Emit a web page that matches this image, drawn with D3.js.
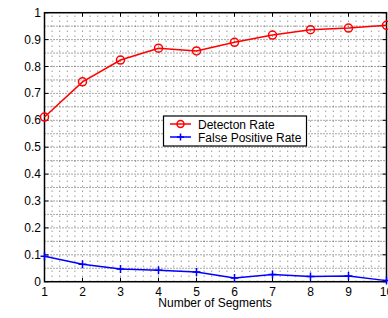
<!DOCTYPE html>
<meta charset="utf-8">
<html>
<head>
<script src="https://d3js.org/d3.v7.min.js"></script>
<style>
body { margin: 0; background: #fff; }
text { font-family: "Liberation Sans", Arial, sans-serif; fill: #000; }
</style>
</head>
<body>
<div id="plot"></div>
<script>
var segments = [1, 2, 3, 4, 5, 6, 7, 8, 9, 10];
var detection = [0.612, 0.743, 0.824, 0.868, 0.858, 0.890, 0.917, 0.937, 0.943, 0.953];
var falsePos = [0.095, 0.065, 0.047, 0.043, 0.036, 0.014, 0.027, 0.019, 0.021, 0.004];
var yTicks = [0, 0.1, 0.2, 0.3, 0.4, 0.5, 0.6, 0.7, 0.8, 0.9, 1];
var yTickLabels = ["0", "0.1", "0.2", "0.3", "0.4", "0.5", "0.6", "0.7", "0.8", "0.9", "1"];

var width = 388, height = 318;
var svg = d3.select("#plot").append("svg").attr("width", width).attr("height", height);

var x = d3.scaleLinear().domain([1, 10]).range([44.5, 386.5]);
var y = d3.scaleLinear().domain([0, 1]).range([281.7, 12.7]);

// dotted grid (x every 0.2, y every 0.05)
var gx = d3.range(1, 10.001, 0.2);
var gy = d3.range(0, 1.0001, 0.05);
svg.append("g").selectAll("line").data(gx).enter().append("line")
  .attr("x1", d => x(d)).attr("x2", d => x(d))
  .attr("y1", y(0)).attr("y2", y(1))
  .attr("stroke", "#444").attr("stroke-width", 0.8)
  .attr("stroke-dasharray", "1,4");
svg.append("g").selectAll("line").data(gy).enter().append("line")
  .attr("x1", x(1)).attr("x2", x(10))
  .attr("y1", d => y(d)).attr("y2", d => y(d))
  .attr("stroke", "#222").attr("stroke-width", 0.8)
  .attr("stroke-dasharray", "1,2");

// box
svg.append("rect").attr("x", x(1)).attr("y", y(1))
  .attr("width", x(10) - x(1)).attr("height", y(0) - y(1))
  .attr("fill", "none").attr("stroke", "#000").attr("stroke-width", 1.5);

// ticks inward
var tk = 4;
svg.append("g").selectAll("line").data(segments).enter().append("line")
  .attr("x1", d => x(d)).attr("x2", d => x(d)).attr("y1", y(0)).attr("y2", y(0) - tk)
  .attr("stroke", "#000");
svg.append("g").selectAll("line").data(segments).enter().append("line")
  .attr("x1", d => x(d)).attr("x2", d => x(d)).attr("y1", y(1)).attr("y2", y(1) + tk)
  .attr("stroke", "#000");
svg.append("g").selectAll("line").data(yTicks).enter().append("line")
  .attr("x1", x(1)).attr("x2", x(1) + tk).attr("y1", d => y(d)).attr("y2", d => y(d))
  .attr("stroke", "#000");
svg.append("g").selectAll("line").data(yTicks).enter().append("line")
  .attr("x1", x(10)).attr("x2", x(10) - tk).attr("y1", d => y(d)).attr("y2", d => y(d))
  .attr("stroke", "#000");

// tick labels
svg.append("g").selectAll("text").data(segments).enter().append("text")
  .attr("x", d => x(d)).attr("y", 296).attr("text-anchor", "middle")
  .attr("font-size", 12).text(d => d);
svg.append("g").selectAll("text").data(yTicks).enter().append("text")
  .attr("x", 41).attr("y", d => y(d) + 4).attr("text-anchor", "end")
  .attr("font-size", 12).text((d, i) => yTickLabels[i]);

svg.append("text").attr("x", 215).attr("y", 306.5).attr("text-anchor", "middle")
  .attr("font-size", 12).text("Number of Segments");

// series
var line = d3.line().x((d, i) => x(segments[i])).y(d => y(d));
svg.append("path").datum(detection).attr("d", line)
  .attr("fill", "none").attr("stroke", "#ff0000").attr("stroke-width", 1.5);
svg.append("g").selectAll("circle").data(detection).enter().append("circle")
  .attr("cx", (d, i) => x(segments[i])).attr("cy", d => y(d)).attr("r", 4)
  .attr("fill", "none").attr("stroke", "#ff0000").attr("stroke-width", 1.5);

svg.append("path").datum(falsePos).attr("d", line)
  .attr("fill", "none").attr("stroke", "#0000ff").attr("stroke-width", 1.5);
svg.append("g").selectAll("path").data(falsePos).enter().append("path")
  .attr("d", "M-4,0H4M0,-4V4")
  .attr("transform", (d, i) => "translate(" + x(segments[i]) + "," + y(d) + ")")
  .attr("stroke", "#0000ff").attr("stroke-width", 1.5);

// legend
var lg = svg.append("g");
lg.append("rect").attr("x", 163.5).attr("y", 116).attr("width", 143).attr("height", 30)
  .attr("fill", "#fff").attr("stroke", "#000").attr("stroke-width", 1.2);
var items = [
  {name: "Detecton Rate", color: "#ff0000", mark: "o"},
  {name: "False Positive Rate", color: "#0000ff", mark: "+"}
];
items.forEach(function(it, i) {
  var yy = 124 + i * 13;
  lg.append("line").attr("x1", 170).attr("x2", 191).attr("y1", yy).attr("y2", yy)
    .attr("stroke", it.color).attr("stroke-width", 1.5);
  if (it.mark === "o") {
    lg.append("circle").attr("cx", 180.5).attr("cy", yy).attr("r", 3.5)
      .attr("fill", "none").attr("stroke", it.color).attr("stroke-width", 1.5);
  } else {
    lg.append("path").attr("d", "M-3.5,0H3.5M0,-3.5V3.5")
      .attr("transform", "translate(180.5," + yy + ")")
      .attr("stroke", it.color).attr("stroke-width", 1.5);
  }
  lg.append("text").attr("x", 198).attr("y", yy + 4.5).attr("font-size", 12).text(it.name);
});
</script>
</body>
</html>
